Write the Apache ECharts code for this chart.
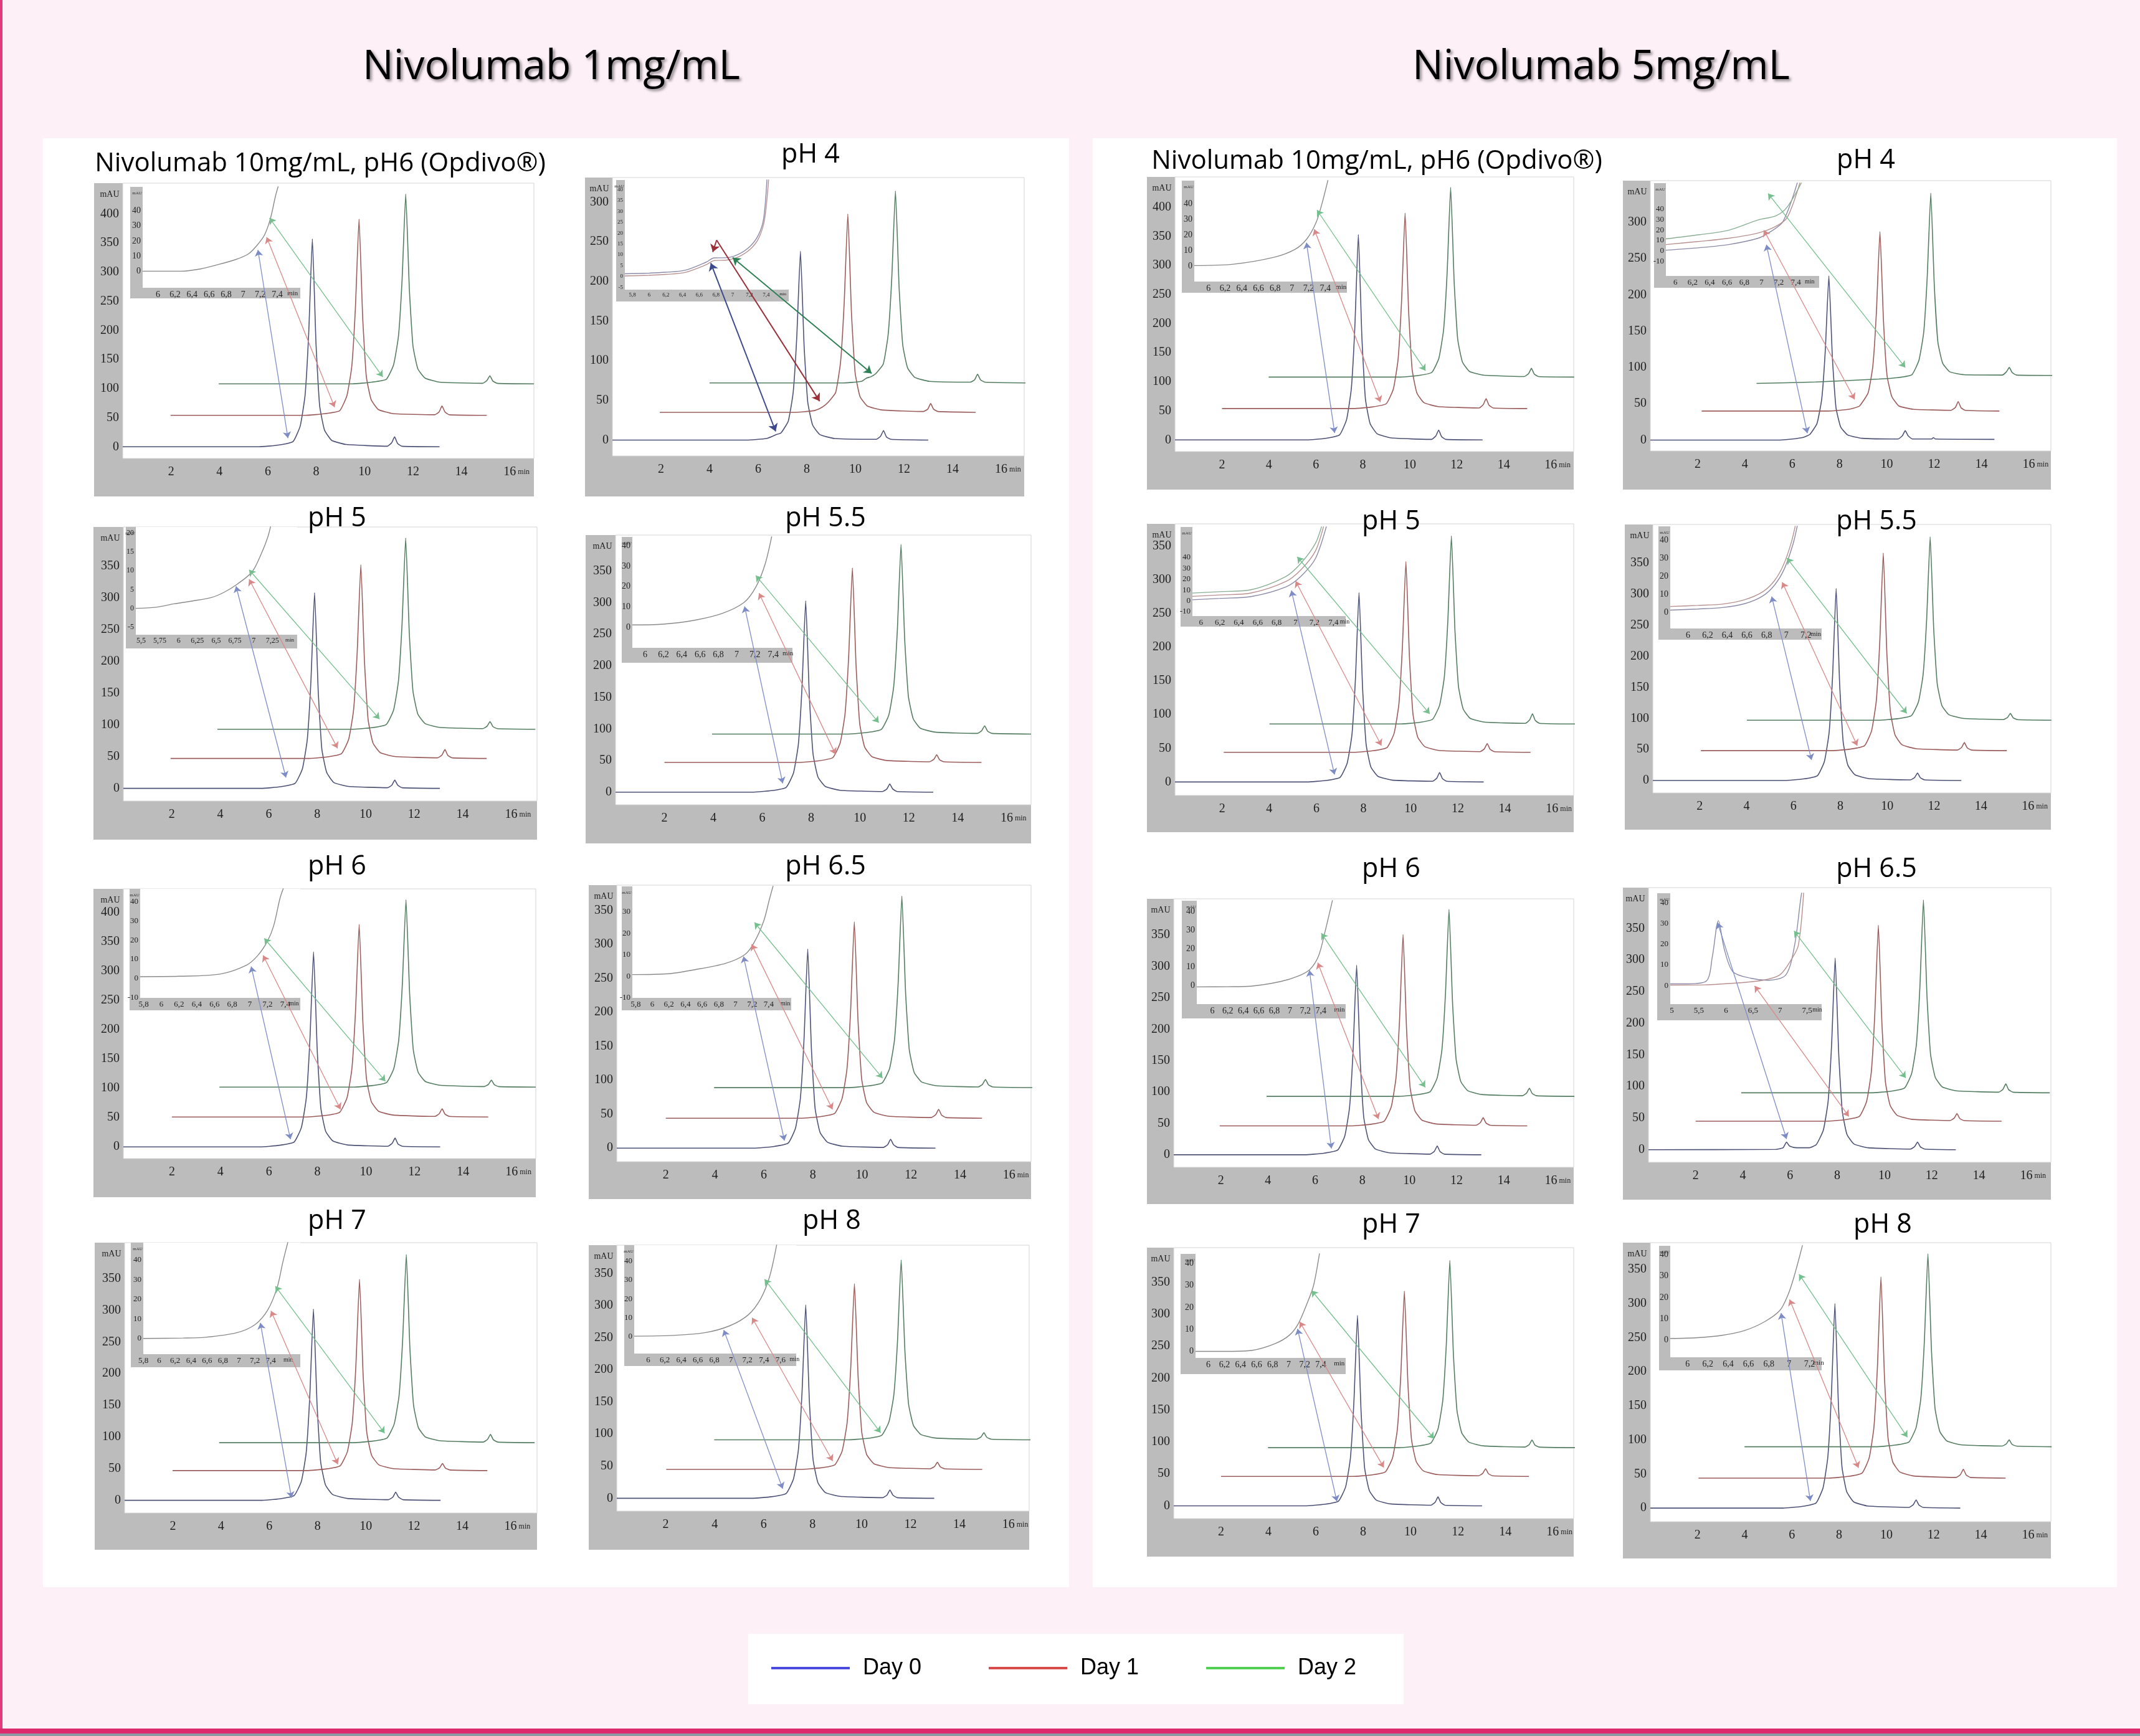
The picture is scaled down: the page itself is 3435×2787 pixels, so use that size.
<!DOCTYPE html>
<html><head><meta charset="utf-8">
<script src="https://cdn.jsdelivr.net/npm/echarts@6.0.0/dist/echarts.min.js"></script>
<style>html,body{margin:0;padding:0;background:#fdf0f7}#c{width:3435px;height:2787px}</style>
</head><body><div id="c"></div>
<script>
// ---------------- DATA ----------------
// Panel order: 1mg: Opdivo, pH4, pH5, pH5.5, pH6, pH6.5, pH7, pH8 ; 5mg: same order
const PANEL_TITLES = ['Nivolumab 10mg/mL, pH6 (Opdivo®)','pH 4','pH 5','pH 5.5','pH 6','pH 6.5','pH 7','pH 8',
                      'Nivolumab 10mg/mL, pH6 (Opdivo®)','pH 4','pH 5','pH 5.5','pH 6','pH 6.5','pH 7','pH 8'];
const GROUP_TITLES = ['Nivolumab 1mg/mL','Nivolumab 5mg/mL'];
const SERIES_NAMES = ['Day 0','Day 1','Day 2'];
const MAIN_X_TICKS = [2,4,6,8,10,12,14,16];
const Y_TICKS_300 = [0,50,100,150,200,250,300];
const Y_TICKS_350 = [0,50,100,150,200,250,300,350];
const Y_TICKS_400 = [0,50,100,150,200,250,300,350,400];
const INSET_X_A = ['6','6,2','6,4','6,6','6,8','7','7,2','7,4'];
const INSET_X_B = ['5,8','6','6,2','6,4','6,6','6,8','7','7,2','7,4'];
const INSET_X_C = ['5,5','5,75','6','6,25','6,5','6,75','7','7,25'];
const INSET_X_D = ['6','6,2','6,4','6,6','6,8','7','7,2','7,4','7,6'];
const INSET_X_E = ['6','6,2','6,4','6,6','6,8','7','7,2'];
const INSET_X_F = ['5','5,5','6','6,5','7','7,5'];
const INSET_Y_A = [0,10,20,30,40];
const INSET_Y_B = [-10,0,10,20,30,40];
const INSET_Y_C = [-5,0,5,10,15,20];
const INSET_Y_D = [-10,0,10,20,30];
const INSET_Y_E = [-5,0,5,10,15,20,25,30,35,40];

// chromatogram traces [min, mAU]
const p0_d0=[[0,0],[5.64,0],[6.44,3],[7.04,9],[7.34,36],[7.54,89],[7.69,196],[7.84,357],[7.99,178],[8.14,71],[8.34,29],[8.64,11],[9.24,4],[10.94,1],[11.12,7],[11.24,17],[11.36,6],[11.54,1],[13.1,0]];
const p0_d1=[[1.98,54],[7.57,54],[8.37,57],[8.97,62],[9.27,88],[9.47,138],[9.62,239],[9.77,391],[9.92,223],[10.07,121],[10.27,81],[10.57,64],[11.17,57],[12.9,55],[13.08,60],[13.2,70],[13.32,60],[13.5,55],[15.05,54]];
const p0_d2=[[3.97,108],[9.5,108],[10.3,111],[10.9,116],[11.2,141],[11.4,190],[11.55,287],[11.7,434],[11.85,271],[12.0,173],[12.2,134],[12.5,118],[13.1,111],[14.88,109],[15.06,114],[15.18,122],[15.3,113],[15.48,109],[17,108]];
const p1_d0=[[0,0],[5.54,0],[6.34,2],[6.6,5],[6.75,7],[6.94,9],[7.24,24],[7.44,60],[7.59,131],[7.74,238],[7.89,119],[8.04,48],[8.24,19],[8.54,7],[9.14,2],[10.86,1],[11.04,5],[11.16,12],[11.28,4],[11.46,1],[13.0,0]];
const p1_d1=[[1.95,35],[7.49,35],[8.29,37],[8.55,40],[8.77,44.5],[8.95,50],[9.19,60],[9.39,98],[9.54,173],[9.69,285],[9.84,160],[9.99,85],[10.19,55],[10.49,43],[11.09,38],[12.8,36],[12.98,39],[13.1,46],[13.22,39],[13.4,36],[14.95,35]];
const p1_d2=[[4.0,72],[9.45,72],[10.25,74],[10.45,78],[10.65,80],[10.85,84],[11.15,96],[11.35,133],[11.5,205],[11.65,314],[11.8,193],[11.95,120],[12.15,91],[12.45,79],[13.05,74],[14.73,73],[14.91,76],[15.03,83],[15.15,76],[15.33,73],[17,72]];
const p2_d0=[[0,0],[5.69,0],[6.49,2.5],[7.09,8],[7.39,31],[7.59,77],[7.74,169],[7.89,308],[8.04,154],[8.19,62],[8.39,25],[8.69,9],[9.29,3],[10.9,1],[11.08,5],[11.2,13],[11.32,5],[11.5,1],[13.06,0]];
const p2_d1=[[1.95,47],[7.6,47],[8.4,49.4],[9.0,54.6],[9.3,77.5],[9.5,123.3],[9.65,214.8],[9.8,352],[9.95,199.5],[10.1,108],[10.3,71.4],[10.6,56.2],[11.2,50.1],[12.97,48],[13.15,52.6],[13.27,61],[13.39,51.9],[13.57,48],[14.99,47]];
const p2_d2=[[3.88,93],[9.45,93],[10.25,95.4],[10.85,100.5],[11.15,123.1],[11.35,168.3],[11.5,258.6],[11.65,394],[11.8,243.5],[11.95,153.2],[12.15,117.1],[12.45,102],[13.05,96],[14.83,94],[15.01,97.8],[15.13,105],[15.25,97.2],[15.43,94],[17,93]];
const p3_d0=[[0,0],[5.58,0],[6.38,2.4],[6.98,7.6],[7.28,30.3],[7.48,75.8],[7.63,166.7],[7.78,303],[7.93,151.5],[8.08,60.6],[8.28,24.2],[8.58,9.1],[9.18,3],[10.92,1],[11.1,5],[11.22,13],[11.34,5],[11.52,1],[13.0,0]];
const p3_d1=[[2.0,47],[7.49,47],[8.29,49.5],[8.89,54.7],[9.19,77.8],[9.39,124],[9.54,216.4],[9.69,355],[9.84,201],[9.99,108.6],[10.19,71.6],[10.49,56.2],[11.09,50.1],[12.84,48],[13.02,51.8],[13.14,59],[13.26,51.2],[13.44,48],[14.97,47]];
const p3_d2=[[3.95,92],[9.48,92],[10.28,94.4],[10.88,99.5],[11.18,122],[11.38,167],[11.53,257],[11.68,392],[11.83,242],[11.98,152],[12.18,116],[12.48,101],[13.08,95],[14.8,93],[14.98,97.2],[15.1,105],[15.22,96.6],[15.4,93],[17,92]];
const p4_d0=[[0,0],[5.64,0],[6.44,2.7],[7.04,8.3],[7.34,33.3],[7.54,83.3],[7.69,183.2],[7.84,333],[7.99,166.5],[8.14,66.6],[8.34,26.6],[8.64,10],[9.24,3.3],[10.9,1],[11.08,6],[11.2,15],[11.32,5],[11.5,1],[13.06,0]];
const p4_d1=[[2.0,51],[7.52,51],[8.32,53.6],[8.92,59.2],[9.22,83.9],[9.42,133.3],[9.57,232],[9.72,380],[9.87,215.5],[10.02,116.8],[10.22,77.3],[10.52,60.9],[11.12,54.3],[12.84,52],[13.02,56.6],[13.14,65],[13.26,55.9],[13.44,52],[15.04,51]];
const p4_d2=[[3.96,102],[9.45,102],[10.25,104.6],[10.85,110],[11.15,134],[11.35,182],[11.5,278],[11.65,422],[11.8,262],[11.95,166],[12.15,127.6],[12.45,111.6],[13.05,105.2],[14.87,103],[15.05,106.8],[15.17,114],[15.29,106.2],[15.47,103],[17,102]];
const p5_d0=[[0,0],[5.59,0],[6.39,2.3],[6.99,7.3],[7.29,29.3],[7.49,73.3],[7.64,161.2],[7.79,293],[7.94,146.5],[8.09,58.6],[8.29,23.4],[8.59,8.8],[9.19,2.9],[10.87,1],[11.05,5],[11.17,13],[11.29,5],[11.47,1],[13.0,0]];
const p5_d1=[[2.0,44],[7.49,44],[8.29,46.3],[8.89,51.2],[9.19,72.9],[9.39,116.3],[9.54,203],[9.69,333],[9.84,188.5],[9.99,101.8],[10.19,67.1],[10.49,52.7],[11.09,46.9],[12.83,45],[13.01,49.2],[13.13,57],[13.25,48.6],[13.43,45],[14.9,44]];
const p5_d2=[[3.97,89],[9.43,89],[10.23,91.3],[10.83,96.1],[11.13,117.2],[11.33,159.5],[11.48,244.1],[11.63,371],[11.78,230],[11.93,145.4],[12.13,111.6],[12.43,97.5],[13.03,91.8],[14.74,90],[14.92,93.8],[15.04,101],[15.16,93.2],[15.34,90],[17,89]];
const p6_d0=[[0,0],[5.63,0],[6.43,2.4],[7.03,7.6],[7.33,30.2],[7.53,75.5],[7.68,166.1],[7.83,302],[7.98,151],[8.13,60.4],[8.33,24.2],[8.63,9.1],[9.23,3],[10.94,1],[11.12,5],[11.24,13],[11.36,5],[11.54,1],[13.1,0]];
const p6_d1=[[1.99,47],[7.54,47],[8.34,49.4],[8.94,54.6],[9.24,77.2],[9.44,122.5],[9.59,213.1],[9.74,349],[9.89,198],[10.04,107.4],[10.24,71.2],[10.54,56.1],[11.14,50],[12.88,48],[13.06,51.4],[13.18,58],[13.3,50.9],[13.48,48],[15.04,47]];
const p6_d2=[[3.92,91],[9.48,91],[10.28,93.4],[10.88,98.4],[11.18,120.7],[11.38,165.3],[11.53,254.4],[11.68,388],[11.83,239.5],[11.98,150.4],[12.18,114.8],[12.48,99.9],[13.08,94],[14.87,92],[15.05,96.2],[15.17,104],[15.29,95.6],[15.47,92],[17,91]];
const p7_d0=[[0,0],[5.52,0],[6.32,2.4],[6.92,7.5],[7.22,30.1],[7.42,75.3],[7.57,165.6],[7.72,301],[7.87,150.5],[8.02,60.2],[8.22,24.1],[8.52,9],[9.12,3],[10.86,1],[11.04,5],[11.16,13],[11.28,5],[11.46,1],[12.97,0]];
const p7_d1=[[2.02,45],[7.51,45],[8.31,47.3],[8.91,52.2],[9.21,73.9],[9.41,117.3],[9.56,204],[9.71,334],[9.86,189.5],[10.01,102.8],[10.21,68.1],[10.51,53.7],[11.11,47.9],[12.8,46],[12.98,49.4],[13.1,56],[13.22,48.9],[13.4,46],[14.93,45]];
const p7_d2=[[3.98,91],[9.42,91],[10.22,93.2],[10.82,98],[11.12,119],[11.32,161],[11.47,245],[11.62,371],[11.77,231],[11.92,147],[12.12,113.4],[12.42,99.4],[13.02,93.8],[14.7,92],[14.88,95.4],[15.0,102],[15.12,94.9],[15.3,92],[17,91]];
const p8_d0=[[0,0],[5.61,0],[6.41,2.8],[7.01,8.8],[7.31,35.3],[7.51,88.3],[7.66,194.2],[7.81,353],[7.96,176.5],[8.11,70.6],[8.31,28.2],[8.61,10.6],[9.21,3.5],[10.93,1],[11.11,7],[11.23,17],[11.35,6],[11.53,1],[13.1,0]];
const p8_d1=[[2.0,54],[7.6,54],[8.4,56.7],[9.0,62.4],[9.3,87.6],[9.5,138],[9.65,238.8],[9.8,390],[9.95,222],[10.1,121.2],[10.3,80.9],[10.6,64.1],[11.2,57.4],[12.95,55],[13.13,60.8],[13.25,71],[13.37,60],[13.55,55],[15.0,54]];
const p8_d2=[[3.99,108],[9.54,108],[10.34,110.6],[10.94,116.2],[11.24,140.6],[11.44,189.5],[11.59,287.3],[11.74,434],[11.89,271],[12.04,173.2],[12.24,134.1],[12.54,117.8],[13.14,111.3],[14.88,109],[15.06,114],[15.18,123],[15.3,113.3],[15.48,109],[17,108]];
const p9_d0=[[0,0],[5.35,0],[6.15,2],[6.5,4],[6.75,8],[7.05,23],[7.25,57],[7.4,124],[7.55,226],[7.7,113],[7.85,45],[8.05,18],[8.35,7],[8.95,2.5],[10.48,1.5],[10.66,6],[10.78,13],[10.9,6],[11.08,1.5],[11.9,1.5],[11.97,3.5],[12.05,1.5],[14.55,1]];
const p9_d1=[[2.17,40],[7.51,40],[8.31,42],[8.6,44],[8.85,47],[9.21,65],[9.41,102],[9.56,176],[9.71,287],[9.86,164],[10.01,89],[10.21,60],[10.51,47],[11.11,42.5],[12.72,41],[12.9,45],[13.02,53],[13.14,44.5],[13.32,41],[14.76,40]];
const p9_d2=[[4.49,78],[7.0,80],[9.66,84],[10.46,86],[11.06,90],[11.36,110],[11.56,148],[11.71,225],[11.86,340],[12.01,212],[12.16,135],[12.36,106],[12.66,94],[13.26,90],[14.88,89.5],[15.06,94],[15.18,100],[15.3,93],[15.48,89.5],[17,89]];
const p10_d0=[[0,0],[5.61,0],[6.41,2.2],[7.01,7],[7.31,28.1],[7.51,70.3],[7.66,154.6],[7.81,281],[7.96,140.5],[8.11,56.2],[8.31,22.5],[8.61,8.4],[9.21,2.8],[10.93,1],[11.11,5.6],[11.23,14],[11.35,5],[11.53,1],[13.1,0]];
const p10_d1=[[2.07,44],[7.6,44],[8.4,46.3],[9.0,51.1],[9.3,72.3],[9.5,114.8],[9.65,199.7],[9.8,327],[9.95,185.5],[10.1,100.6],[10.3,66.6],[10.6,52.5],[11.2,46.8],[12.95,45],[13.13,49.2],[13.25,57],[13.37,48.6],[13.55,45],[15.09,44]];
const p10_d2=[[4.01,86],[9.53,86],[10.33,88.2],[10.93,93],[11.23,113.9],[11.43,155.8],[11.58,239.5],[11.73,365],[11.88,225.5],[12.03,141.8],[12.23,108.3],[12.53,94.4],[13.13,88.8],[14.87,87],[15.05,92],[15.17,101],[15.29,91.3],[15.47,87],[17,86]];
const p11_d0=[[0,0],[5.62,0],[6.42,2.5],[7.02,7.7],[7.32,30.9],[7.52,77.3],[7.67,170],[7.82,309],[7.97,154.5],[8.12,61.8],[8.32,24.7],[8.62,9.3],[9.22,3.1],[10.99,1],[11.17,5],[11.29,12],[11.41,4.5],[11.59,1],[13.16,0]];
const p11_d1=[[2.05,48],[7.63,48],[8.43,50.5],[9.03,56],[9.33,79.8],[9.53,127.5],[9.68,222.9],[9.83,366],[9.98,207],[10.13,111.6],[10.33,73.4],[10.63,57.5],[11.23,51.2],[12.99,49],[13.17,53.2],[13.29,61],[13.41,52.6],[13.59,49],[15.1,48]];
const p11_d2=[[4.01,97],[9.63,97],[10.43,99.4],[11.03,104.4],[11.33,126.5],[11.53,170.8],[11.68,259.3],[11.83,392],[11.98,244.5],[12.13,156],[12.33,120.6],[12.63,105.9],[13.23,100],[14.95,98],[15.13,101.4],[15.25,108],[15.37,100.9],[15.55,98],[17,97]];
const p12_d0=[[0,0],[5.56,0],[6.36,2.4],[6.96,7.6],[7.26,30.2],[7.46,75.5],[7.61,166.1],[7.76,302],[7.91,151],[8.06,60.4],[8.26,24.2],[8.56,9.1],[9.16,3],[10.88,1],[11.06,5.6],[11.18,14],[11.3,5],[11.48,1],[13.05,0]];
const p12_d1=[[1.95,46],[7.53,46],[8.33,48.4],[8.93,53.6],[9.23,76.5],[9.43,122.3],[9.58,213.8],[9.73,351],[9.88,198.5],[10.03,107],[10.23,70.4],[10.53,55.2],[11.13,49.1],[12.83,47],[13.01,51.2],[13.13,59],[13.25,50.6],[13.43,47],[15.0,46]];
const p12_d2=[[3.94,93],[9.48,93],[10.28,95.4],[10.88,100.5],[11.18,122.8],[11.38,167.5],[11.53,256.9],[11.68,391],[11.83,242],[11.98,152.6],[12.18,116.8],[12.48,101.9],[13.08,96],[14.79,94],[14.97,98.2],[15.09,106],[15.21,97.6],[15.39,94],[17,93]];
const p13_d0=[[0,0],[5.4,0.5],[5.7,3],[5.85,12],[5.97,6],[6.15,3.5],[6.5,3],[6.8,3],[7.11,8],[7.41,31],[7.61,76],[7.76,167],[7.91,303],[8.06,152],[8.21,61],[8.41,24],[8.71,9],[9.31,3],[11.1,1],[11.28,5],[11.4,12],[11.52,4.5],[11.7,1],[13.02,0]];
const p13_d1=[[2.0,45],[7.54,45],[8.34,47.5],[8.94,52.8],[9.24,76],[9.44,122.5],[9.59,215.5],[9.74,355],[9.89,200],[10.04,107],[10.24,69.8],[10.54,54.3],[11.14,48.1],[12.77,46],[12.95,49.8],[13.07,57],[13.19,49.2],[13.37,46],[14.96,45]];
const p13_d2=[[3.93,90],[9.45,90],[10.25,92.4],[10.85,97.6],[11.15,120.5],[11.35,166.3],[11.5,257.8],[11.65,395],[11.8,242.5],[11.95,151],[12.15,114.4],[12.45,99.2],[13.05,93.1],[14.84,91],[15.02,95.6],[15.14,104],[15.26,94.9],[15.44,91],[17,90]];
const p14_d0=[[0,0],[5.56,0],[6.36,2.4],[6.96,7.5],[7.26,29.8],[7.46,74.5],[7.61,163.9],[7.76,298],[7.91,149],[8.06,59.6],[8.26,23.8],[8.56,8.9],[9.16,3],[10.86,1],[11.04,5.6],[11.16,14],[11.28,5],[11.46,1],[13.02,0]];
const p14_d1=[[2.0,46],[7.54,46],[8.34,48.3],[8.94,53.3],[9.24,75],[9.44,118.5],[9.59,205.5],[9.74,336],[9.89,191],[10.04,104],[10.24,69.2],[10.54,54.7],[11.14,48.9],[12.87,47],[13.05,50.8],[13.17,58],[13.29,50.2],[13.47,47],[15.0,46]];
const p14_d2=[[3.98,91],[9.46,91],[10.26,93.3],[10.86,98.3],[11.16,120.3],[11.36,164.3],[11.51,252.2],[11.66,384],[11.81,237.5],[11.96,149.6],[12.16,114.4],[12.46,99.8],[13.06,93.9],[14.83,92],[15.01,95.8],[15.13,103],[15.25,95.2],[15.43,92],[17,91]];
const p15_d0=[[0,0],[5.62,0],[6.42,2.4],[7.02,7.5],[7.32,30],[7.52,75],[7.67,165],[7.82,300],[7.97,150],[8.12,60],[8.32,24],[8.62,9],[9.22,3],[10.96,1],[11.14,5],[11.26,12],[11.38,4.5],[11.56,1],[13.13,0]];
const p15_d1=[[2.04,44],[7.57,44],[8.37,46.4],[8.97,51.4],[9.27,73.5],[9.47,117.8],[9.62,206.3],[9.77,339],[9.92,191.5],[10.07,103],[10.27,67.6],[10.57,52.9],[11.17,47],[12.96,45],[13.14,49.2],[13.26,57],[13.38,48.6],[13.56,45],[15.05,44]];
const p15_d2=[[3.99,90],[9.56,90],[10.36,92.3],[10.96,97.1],[11.26,118.3],[11.46,160.8],[11.61,245.7],[11.76,373],[11.91,231.5],[12.06,146.6],[12.26,112.6],[12.56,98.5],[13.16,92.8],[14.9,91],[15.08,94],[15.2,100],[15.32,93.5],[15.5,91],[17,90]];

// inset (zoomed) curves [min, mAU]
const ins0=[[[5.82,0],[6.27,0],[6.5,1.5],[6.68,4],[6.91,7.7],[7.06,11.4],[7.16,17],[7.25,24],[7.32,35],[7.38,50],[7.42,58]]];
const ins1=[[[5.71,1.3],[6.0,1.6],[6.2,2.0],[6.43,2.9],[6.68,6.6],[6.78,8.6],[6.93,8.7],[7.07,10.3],[7.21,14],[7.31,19.3],[7.37,26.7],[7.41,45]],
            [[5.71,0.3],[6.0,0.6],[6.2,1.0],[6.43,1.9],[6.68,5.4],[6.78,7.4],[6.93,7.6],[7.07,9.1],[7.21,12.6],[7.31,17.6],[7.38,26],[7.43,45]]];
const ins2=[[[5.43,0],[5.7,0.3],[5.94,1.2],[6.2,2],[6.44,2.9],[6.6,4.2],[6.78,6.4],[6.98,9.7],[7.1,14.4],[7.19,19],[7.24,23]]];
const ins3=[[[5.86,1.2],[6.2,1.6],[6.54,3.5],[6.84,6.8],[7.08,12.2],[7.21,19.8],[7.31,30.8],[7.39,46]]];
const ins4=[[[5.76,1],[6.2,1.2],[6.66,2.3],[6.96,6.9],[7.09,12],[7.2,19.5],[7.27,27.5],[7.34,41.5],[7.38,47]]];
const ins5=[[[5.76,0.8],[6.2,1.2],[6.5,3],[6.88,6],[7.11,10],[7.22,15.4],[7.34,25.7],[7.41,36],[7.46,43]]];
const ins6=[[[5.8,0],[6.3,0.2],[6.58,0.6],[6.97,2.9],[7.2,7],[7.36,14.4],[7.48,26],[7.55,38.7],[7.62,50]]];
const ins7=[[[5.83,0.2],[6.3,0.6],[6.68,2],[6.98,5.6],[7.21,11.5],[7.36,20],[7.47,32],[7.56,50]]];
const ins8=[[[5.83,0.3],[6.3,1.2],[6.79,5.7],[7.04,10.8],[7.18,17.5],[7.29,28],[7.36,40],[7.44,57]]];
const ins9=[[[5.89,0.6],[6.28,3],[6.62,6],[6.96,12],[7.1,18],[7.25,28],[7.42,66]],
            [[5.89,6],[6.28,9],[6.62,12],[6.96,17],[7.17,23.5],[7.3,32],[7.45,66]],
            [[5.89,11.4],[6.28,15.4],[6.62,19.7],[6.96,29.5],[7.17,33.5],[7.3,42],[7.47,66]]];
const ins10=[[[5.91,1],[6.2,2.3],[6.53,4],[6.9,13],[7.06,23],[7.21,39],[7.33,70]],
             [[5.91,4.2],[6.2,5.5],[6.53,7.3],[6.9,18],[7.06,29],[7.21,46],[7.3,70]],
             [[5.91,7.2],[6.2,8.5],[6.53,10.3],[6.9,22.6],[7.06,35],[7.21,53],[7.28,70]]];
const ins11=[[[5.82,1.2],[6.1,1.8],[6.35,2.6],[6.58,4.8],[6.76,9],[6.88,15],[6.98,24],[7.07,38],[7.12,50]],
             [[5.82,3.2],[6.1,3.8],[6.35,4.5],[6.58,7],[6.76,11.3],[6.88,17.5],[6.97,26],[7.05,38.4],[7.1,50]]];
const ins12=[[[5.8,-0.7],[6.2,-0.6],[6.5,-0.3],[6.88,2.2],[7.11,5.2],[7.26,8.8],[7.37,16],[7.45,28.5],[7.56,48]]];
const ins13=[[[4.97,0.8],[5.3,0.8],[5.64,2.2],[5.75,14.2],[5.86,31.3],[5.97,17.5],[6.13,6.6],[6.46,3.5],[6.79,2.5],[7.11,5.2],[7.27,19.5],[7.38,41.3],[7.42,48]],
             [[4.97,0.2],[5.6,0.3],[6.25,1.3],[6.68,2.5],[7.0,5.2],[7.21,12.6],[7.34,19.5],[7.44,46]]];
const ins14=[[[5.84,0],[6.3,0],[6.54,0.4],[6.83,3.5],[7.01,7.4],[7.12,12.6],[7.23,21.9],[7.31,30],[7.39,46]]];
const ins15=[[[5.83,0.8],[6.1,1.2],[6.33,2.2],[6.56,4.5],[6.76,8.7],[6.91,14],[6.99,21.4],[7.05,30],[7.14,46]]];

// arrows from inset to peak foot, in main-axis units [min, mAU] (Day 0, Day 1, Day 2)
const arr0=[[[5.59,338],[6.83,15]],[[5.95,360],[8.76,68]],[[6.07,393],[10.75,120]]];
const arr1=[[[4.05,223],[6.72,11]],[[4.13,237],[4.29,252],[8.53,49]],[[4.95,230],[10.67,84]]];
const arr2=[[[4.65,318],[6.71,17]],[[5.19,329],[8.84,63]],[[5.19,344],[10.57,109]]];
const arr3=[[[5.28,294],[6.84,14]],[[5.87,315],[9.0,60]],[[5.74,343],[10.77,110]]];
const arr4=[[[5.27,308],[6.89,13]],[[5.76,327],[8.95,64]],[[5.81,356],[10.8,112]]];
const arr5=[[[5.17,282],[6.84,11]],[[5.5,300],[8.8,57]],[[5.62,332],[10.84,103]]];
const arr6=[[[5.63,280],[6.92,4]],[[6.07,299],[8.84,57]],[[6.25,338],[10.78,106]]];
const arr7=[[[4.37,262],[6.78,15]],[[5.53,281],[8.82,58]],[[6.04,341],[10.78,102]]];
const arr8=[[[5.6,339],[6.8,12]],[[5.93,362],[8.75,65]],[[6.05,395],[10.67,119]]];
const arr9=[[[4.91,269],[6.64,9.5]],[[4.8,289],[8.64,56]],[[4.98,339.5],[10.78,100]]];
const arr10=[[[4.94,284],[6.77,11]],[[5.12,298],[8.76,54]],[[5.19,334],[10.81,101]]];
const arr11=[[[5.07,296],[6.77,33]],[[5.52,319],[8.72,56]],[[5.72,358],[10.83,108]]];
const arr12=[[[5.76,294],[6.69,10]],[[6.11,306],[8.69,57]],[[6.26,353],[10.67,107.5]]];
const arr13=[[[2.93,359],[5.85,17]],[[4.5,259],[8.49,52.5]],[[6.17,346],[10.9,113.6]]];
const arr14=[[[5.23,277],[6.89,7]],[[5.32,288],[8.87,60]],[[5.82,337],[10.99,105]]];
const arr15=[[[5.54,286],[6.78,10.5]],[[5.9,306],[8.82,59]],[[6.3,343],[10.89,104]]];

// ---------------- AXIS SETTINGS PER PANEL ----------------
const PANEL_Y_RANGE=[[-20,452.7],[-20,330.9],[-20,411.4],[-20,407],[-20,440.6],[-20,387],[-20,406.7],[-20,394],
                     [-20,452],[-15,357.2],[-20,383],[-20,411.9],[-20,407.8],[-20,414.5],[-20,404],[-20,389.3]];
const PANEL_X_MAX=[17.0,16.95,17.07,17.0,17.0,16.9,17.1,16.85,16.98,16.94,16.92,16.98,16.97,17.05,16.89,16.97];
const PANEL_Y_TICKS=[Y_TICKS_400,Y_TICKS_300,Y_TICKS_350,Y_TICKS_350,Y_TICKS_400,Y_TICKS_350,Y_TICKS_350,Y_TICKS_350,
                     Y_TICKS_400,Y_TICKS_300,Y_TICKS_350,Y_TICKS_350,Y_TICKS_350,Y_TICKS_350,Y_TICKS_350,Y_TICKS_350];
const INSET_X_RANGE=[[5.82,7.67],[5.71,7.67],[5.43,7.58],[5.86,7.61],[5.76,7.57],[5.76,7.67],[5.8,7.77],[5.83,7.79],
                     [5.83,7.66],[5.89,7.67],[5.91,7.53],[5.82,7.36],[5.8,7.72],[4.97,7.77],[5.84,7.71],[5.83,7.32]];
const INSET_Y_RANGE=[[-11,55.9],[-6,44.4],[-7,21.6],[-10,44.3],[-10,46.5],[-10,41.7],[-8,48.8],[-9,48.4],
                     [-10,55],[-24,64.7],[-14,68.2],[-9,47.6],[-10,45.9],[-9,44.6],[-3,44.4],[-8,44.2]];
const INSET_X_TICKS=[INSET_X_A,INSET_X_B,INSET_X_C,INSET_X_A,INSET_X_B,INSET_X_B,INSET_X_B,INSET_X_D,
                     INSET_X_A,INSET_X_A,INSET_X_A,INSET_X_E,INSET_X_A,INSET_X_F,INSET_X_A,INSET_X_E];
const INSET_MIN_AT=[7.58,7.6,7.48,7.56,7.5,7.6,7.62,7.77,7.59,7.56,7.52,7.3,7.64,7.69,7.63,7.29];
const INSET_Y_TICKS=[INSET_Y_A,INSET_Y_E,INSET_Y_C,INSET_Y_A,INSET_Y_B,INSET_Y_D,INSET_Y_A,INSET_Y_A,
                     INSET_Y_A,INSET_Y_B,INSET_Y_B,INSET_Y_A,INSET_Y_A,INSET_Y_A,INSET_Y_A,INSET_Y_A];

// ---------------- LAYOUT (pixels) ----------------
// [greyLeft, top, plotLeft, right, plotBottom, greyBottom]
const PANEL_BOX=[[151,294,197,857,736,797],[939,285,983,1644,732,797],[150,846,198,862,1286,1348],[940,859,988,1655,1292,1354],
                 [150,1427,198,860,1860,1922],[945,1421,990,1655,1865,1925],[152,1995,200,862,2429,2488],[945,1999,990,1652,2426,2488],
                 [1841,284,1886,2526,725,786],[2605,290,2649,3292,724,786],[1841,841,1886,2526,1277,1336],[2608,842,2653,3292,1273,1332],
                 [1841,1443,1884,2526,1874,1933],[2605,1425,2646,3292,1866,1926],[1841,2003,1884,2526,2438,2499],[2605,1995,2649,3292,2443,2502]];
const INSET_BOX=[[209,300,229,482,462,479],[989,289,1003,1266,465,484],[202,846,218,477,1019,1041],[998,862,1015,1272,1040,1064],
                 [208,1427,225,482,1602,1622],[998,1423,1015,1270,1602,1622],[210,1995,230,482,2174,2195],[1002,1999,1018,1278,2173,2193],
                 [1897,290,1917,2162,452,470],[2655,294,2674,2920,443,462],[1895,846,1914,2160,989,1006],[2662,845,2681,2924,1009,1027],
                 [1897,1446,1921,2160,1612,1635],[2660,1434,2681,2924,1612,1638],[1895,2013,1919,2160,2180,2206],[2663,2000,2681,2924,2179,2200]];
const INSET_FONT=[14,9,12,14,13,13,13,13,14,13,13,14,14,13,14,14];
const TITLE_POS=[[514,263],[1301,249],[541,833],[1325,833],[541,1392],[1325,1392],[541,1961],[1335,1961],
                 [2210,259],[2995,258],[2233,838],[3012,838],[2233,1396],[3012,1396],[2233,1967],[3022,1967]];
const GROUP_TITLE_POS=[[885,108],[2570,108]];

const TRACES=[[p0_d0,p0_d1,p0_d2],[p1_d0,p1_d1,p1_d2],[p2_d0,p2_d1,p2_d2],[p3_d0,p3_d1,p3_d2],
              [p4_d0,p4_d1,p4_d2],[p5_d0,p5_d1,p5_d2],[p6_d0,p6_d1,p6_d2],[p7_d0,p7_d1,p7_d2],
              [p8_d0,p8_d1,p8_d2],[p9_d0,p9_d1,p9_d2],[p10_d0,p10_d1,p10_d2],[p11_d0,p11_d1,p11_d2],
              [p12_d0,p12_d1,p12_d2],[p13_d0,p13_d1,p13_d2],[p14_d0,p14_d1,p14_d2],[p15_d0,p15_d1,p15_d2]];
const INSETS=[ins0,ins1,ins2,ins3,ins4,ins5,ins6,ins7,ins8,ins9,ins10,ins11,ins12,ins13,ins14,ins15];
const ARROWS=[arr0,arr1,arr2,arr3,arr4,arr5,arr6,arr7,arr8,arr9,arr10,arr11,arr12,arr13,arr14,arr15];

// ---------------- STYLES ----------------
const SERIF='Liberation Serif', SANS='Open Sans';
const TRACE_COLORS=['#4d5276','#9c5c5c','#557d62'];
const INSET_COLORS=['#8a8aa8','#b89090','#8aae94'];
const ARROW_COLORS=['#7e8cc6','#d98888','#74bf8d'];
const ARROW_DARK=['#3c4a8c','#9a2f3a','#2f7f55'];
const LEGEND_COLORS=['#4a4adc','#d94a4a','#52d052'];
const GREY='#bcbcbc';

// ---------------- BUILD ----------------
const grids=[], xAxes=[], yAxes=[], series=[], graphics=[];
graphics.push({type:'rect',z:-10,shape:{x:0,y:0,width:4,height:2775},style:{fill:'#e23a7a'}});
graphics.push({type:'rect',z:-10,shape:{x:0,y:2775,width:3435,height:8},style:{fill:'#dd2a6c'}});
graphics.push({type:'rect',z:-10,shape:{x:0,y:2783,width:3435,height:4},style:{fill:'#8c9aa3'}});
graphics.push({type:'rect',z:-9,shape:{x:69,y:222,width:1647,height:2326},style:{fill:'#ffffff'}});
graphics.push({type:'rect',z:-9,shape:{x:1754,y:222,width:1644,height:2326},style:{fill:'#ffffff'}});
graphics.push({type:'rect',z:-9,shape:{x:1201,y:2623,width:1052,height:113},style:{fill:'#ffffff'}});
GROUP_TITLES.forEach((t,i)=>graphics.push({type:'text',z:10,x:GROUP_TITLE_POS[i][0],y:GROUP_TITLE_POS[i][1],
  style:{text:t,fontFamily:SANS,fontSize:66,fill:'#000',align:'center',verticalAlign:'middle',
         textShadowColor:'rgba(0,0,0,0.45)',textShadowBlur:4,textShadowOffsetX:3,textShadowOffsetY:3,
         shadowColor:'rgba(0,0,0,0.45)',shadowBlur:4,shadowOffsetX:3,shadowOffsetY:3}}));

function near(v,list,tol){for(let i=0;i<list.length;i++){if(Math.abs(v-list[i])<tol)return i;}return -1;}
function mainXFmt(v){const i=near(v,MAIN_X_TICKS,1e-6);if(i<0)return '';const t=MAIN_X_TICKS[i];return t===16?'{p|}16{m| min}':String(t);}
function yFmt(list){return v=>{const i=near(v,list,1e-6);return i<0?'':String(list[i]);};}
function insetXFmt(labels,minAt){const vals=labels.map(s=>parseFloat(s.replace(',','.')));
  return v=>{const i=near(v,vals,0.004);if(i>=0)return labels[i];if(Math.abs(v-minAt)<0.004)return '{m|min}';return '';};}

for(let i=0;i<16;i++){
  const [gL,gT,wL,R,pB,gB]=PANEL_BOX[i];
  graphics.push({type:'rect',z:-8,shape:{x:gL,y:gT,width:R-gL,height:gB-gT},style:{fill:GREY}});
  graphics.push({type:'rect',z:-7,shape:{x:wL,y:gT,width:R-wL,height:pB-gT},style:{fill:'#ffffff',stroke:'#d4d4d4',lineWidth:1}});
  grids.push({left:wL,top:gT,width:R-wL,height:pB-gT,containLabel:false,outerBoundsMode:'none',show:false});
  xAxes.push({gridIndex:i,type:'value',min:0,max:PANEL_X_MAX[i],interval:1,
    axisLine:{show:false},axisTick:{show:false},splitLine:{show:false},
    axisLabel:{show:true,margin:12,fontFamily:SERIF,fontSize:20,color:'#1e1e1e',hideOverlap:false,showMinLabel:true,showMaxLabel:true,
      formatter:mainXFmt,rich:{p:{width:22},m:{fontSize:12,fontFamily:SERIF,color:'#1e1e1e'}}}});
  yAxes.push({gridIndex:i,type:'value',min:PANEL_Y_RANGE[i][0],max:PANEL_Y_RANGE[i][1],interval:5,
    axisLine:{show:false},axisTick:{show:false},splitLine:{show:false},
    axisLabel:{show:true,margin:6,fontFamily:SERIF,fontSize:20,color:'#1e1e1e',hideOverlap:false,formatter:yFmt(PANEL_Y_TICKS[i])}});
  graphics.push({type:'text',z:10,x:wL-21,y:gT+18,style:{text:'mAU',fontFamily:SERIF,fontSize:14,fill:'#1e1e1e',align:'center',verticalAlign:'middle'}});
  graphics.push({type:'text',z:10,x:TITLE_POS[i][0],y:TITLE_POS[i][1],style:{text:PANEL_TITLES[i],fontFamily:SANS,fontSize:i%8===0?42:43,fill:'#000',align:'center',verticalAlign:'middle'}});
}
for(let i=0;i<16;i++){
  const [gL,gT,wL,R,aB,gB]=INSET_BOX[i];
  const k=16+i, fs=INSET_FONT[i];
  graphics.push({type:'rect',z:-6,shape:{x:gL,y:gT,width:R-gL,height:gB-gT},style:{fill:GREY}});
  graphics.push({type:'rect',z:-5,shape:{x:wL,y:gT,width:R-wL,height:aB-gT},style:{fill:'#ffffff'}});
  grids.push({left:wL,top:gT,width:R-wL,height:aB-gT,containLabel:false,outerBoundsMode:'none',show:false});
  xAxes.push({gridIndex:k,type:'value',min:INSET_X_RANGE[i][0],max:INSET_X_RANGE[i][1],interval:0.01,
    axisLine:{show:false},axisTick:{show:false},splitLine:{show:false},
    axisLabel:{show:true,margin:4,fontFamily:SERIF,fontSize:fs,color:'#222',hideOverlap:false,
      formatter:insetXFmt(INSET_X_TICKS[i],INSET_MIN_AT[i]),rich:{m:{fontSize:Math.max(7,fs-3),fontFamily:SERIF,color:'#222'}}}});
  yAxes.push({gridIndex:k,type:'value',min:INSET_Y_RANGE[i][0],max:INSET_Y_RANGE[i][1],interval:1,
    axisLine:{show:false},axisTick:{show:false},splitLine:{show:false},
    axisLabel:{show:true,margin:3,fontFamily:SERIF,fontSize:fs,color:'#222',hideOverlap:false,formatter:yFmt(INSET_Y_TICKS[i])}});
  graphics.push({type:'text',z:10,x:wL-9,y:gT+10,style:{text:'mAU',fontFamily:SERIF,fontSize:7,fill:'#333',align:'center',verticalAlign:'middle'}});
}
for(let i=0;i<16;i++){
  TRACES[i].forEach((d,j)=>series.push({type:'line',name:SERIES_NAMES[j],xAxisIndex:i,yAxisIndex:i,data:d,
    showSymbol:false,symbol:'none',smooth:0.15,clip:true,silent:true,z:2,
    lineStyle:{width:1.6,color:TRACE_COLORS[j]},itemStyle:{color:TRACE_COLORS[j]}}));
  const curves=INSETS[i];
  curves.forEach((d,j)=>series.push({type:'line',xAxisIndex:16+i,yAxisIndex:16+i,data:d,
    showSymbol:false,symbol:'none',smooth:0.3,clip:true,silent:true,z:3,
    lineStyle:{width:1.4,color:curves.length===1?'#8a8a8a':INSET_COLORS[j]}}));
  ARROWS[i].forEach((pts,j)=>{
    const col=(i===1?ARROW_DARK:ARROW_COLORS)[j];
    const nSeg=pts.length-1;
    for(let s=0;s<nSeg;s++){
      const sym=[s===0?'arrow':'none', s===nSeg-1?'arrow':'none'];
      series.push({type:'lines',coordinateSystem:'cartesian2d',xAxisIndex:i,yAxisIndex:i,
        polyline:false,silent:true,z:5,symbol:sym,symbolSize:i===1?12:10,
        lineStyle:{width:i===1?2:1.3,opacity:1,color:col,curveness:0},itemStyle:{color:col},
        data:[{coords:[pts[s],pts[s+1]]}]});
    }
  });
}

const chart=echarts.init(document.getElementById('c'),null,{renderer:'canvas',width:3435,height:2787});
chart.setOption({
  animation:false,
  backgroundColor:'#fdf0f7',
  textStyle:{fontFamily:SERIF},
  grid:grids, xAxis:xAxes, yAxis:yAxes, series:series, graphic:graphics,
  legend:{show:true,selectedMode:false,left:1233,top:2655,icon:'rect',itemWidth:126,itemHeight:4,itemGap:108,
    data:SERIES_NAMES.map((n,j)=>({name:n,itemStyle:{color:LEGEND_COLORS[j]}})),
    textStyle:{fontFamily:'Liberation Sans',fontSize:36,color:'#000',padding:[0,0,0,16],lineHeight:36}}
});
</script></body></html>
